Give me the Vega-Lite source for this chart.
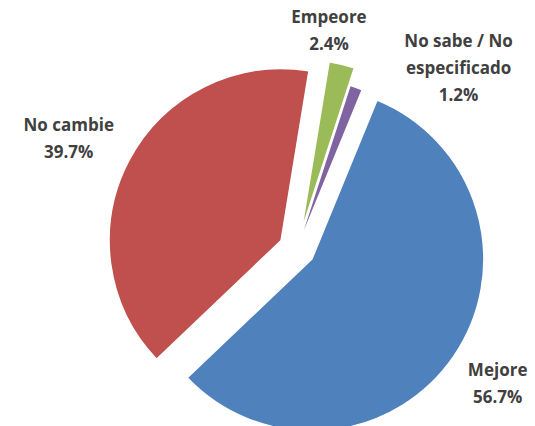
{
  "$schema": "https://vega.github.io/schema/vega-lite/v6.json",
  "width": 476,
  "height": 354,
  "autosize": {"type": "none"},
  "padding": {"left": 59, "top": 72, "right": 0, "bottom": 0},
  "background": "white",
  "config": {"view": {"stroke": null}},
  "data": {
    "values": [
      {"category": "Mejore", "value": 56.7},
      {"category": "No cambie", "value": 39.7},
      {"category": "Empeore", "value": 2.4},
      {"category": "No sabe / No especificado", "value": 1.2}
    ]
  },
  "transform": [
    {"window": [{"op": "sum", "field": "value", "as": "cum"}], "frame": [null, 0]},
    {"joinaggregate": [{"op": "sum", "field": "value", "as": "total"}]},
    {"calculate": "datum.cum - datum.value", "as": "start"},
    {"calculate": "0.389 + 2*PI*(datum.cum - datum.value/2)/datum.total", "as": "mid"},
    {"calculate": "datum.category == 'No sabe / No especificado' ? 0 : 18", "as": "ex"},
    {"calculate": "sin(datum.mid)*datum.ex", "as": "dx"},
    {"calculate": "-cos(datum.mid)*datum.ex", "as": "dy"},
    {"calculate": "datum.category == 'Empeore' ? 0.146 : (datum.category == 'No sabe / No especificado' ? 0.731 : (datum.category == 'Mejore' ? 2.164 : 5.158))", "as": "la"},
    {"calculate": "datum.category == 'Empeore' ? 220 : (datum.category == 'No sabe / No especificado' ? 242 : (datum.category == 'Mejore' ? 242 : 253))", "as": "lr"},
    {"calculate": "datum.category == 'No sabe / No especificado' ? 27 : 13.5", "as": "lift"},
    {"calculate": "sin(datum.la)*datum.lr", "as": "lx"},
    {"calculate": "-cos(datum.la)*datum.lr - datum.lift", "as": "ly"},
    {"calculate": "(datum.category == 'No sabe / No especificado' ? 'No sabe / No\\nespecificado' : datum.category) + '\\n' + format(datum.value, '.1f') + '%'", "as": "label"}
  ],
  "layer": [
    {
      "mark": {"type": "arc", "outerRadius": 172, "stroke": "white", "strokeWidth": 1.5},
      "encoding": {
        "theta": {"field": "start", "type": "quantitative", "scale": {"domain": [0, 100], "range": [0.389, 6.6722]}},
        "theta2": {"field": "cum"},
        "color": {
          "field": "category",
          "type": "nominal",
          "scale": {
            "domain": ["Mejore", "No cambie", "Empeore", "No sabe / No especificado"],
            "range": ["#4F81BD", "#C0504D", "#9BBB59", "#8064A2"]
          },
          "legend": null
        },
        "xOffset": {"field": "dx", "type": "quantitative", "scale": null},
        "yOffset": {"field": "dy", "type": "quantitative", "scale": null}
      }
    },
    {
      "mark": {"type": "text", "font": "Open Sans", "fontWeight": "bold", "fontSize": 17, "color": "#404040", "lineBreak": "\n", "lineHeight": 27, "align": "center", "baseline": "middle"},
      "encoding": {
        "text": {"field": "label", "type": "nominal"},
        "xOffset": {"field": "lx", "type": "quantitative", "scale": null},
        "yOffset": {"field": "ly", "type": "quantitative", "scale": null}
      }
    }
  ]
}
